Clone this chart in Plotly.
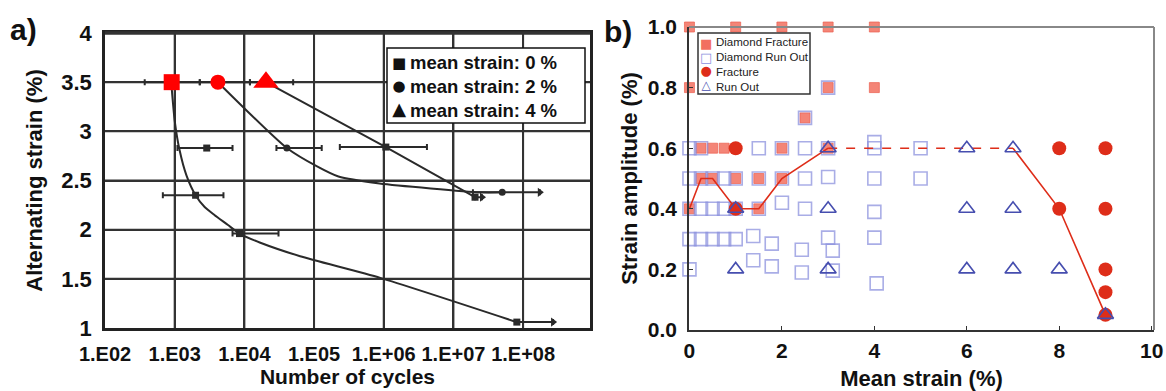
import plotly.graph_objects as go

W, H = 1166, 391
FONT = "Liberation Sans"


def fx(p):
    return p / W


def fy(p):
    return 1 - p / H


# ---------------- Panel a data (log10 of cycles, alternating strain %) -------------
# mean strain 0 %
ms0_logN = [2.957, 3.46, 3.30, 3.93, 7.91]
ms0_strain = [3.5, 2.83, 2.35, 1.96, 1.06]
ms0_lo = [2.57, 3.04, 2.83, 3.83, 7.91]
ms0_hi = [3.36, 3.83, 3.70, 4.49, 8.43]
# mean strain 2 %
ms2_logN = [3.62, 4.61, 7.70]
ms2_strain = [3.5, 2.83, 2.38]
ms2_lo = [3.36, 4.46, 7.28]
ms2_hi = [4.08, 5.11, 8.24]
# mean strain 4 %
ms4_logN = [4.31, 6.03, 7.31]
ms4_strain = [3.5, 2.84, 2.33]
ms4_lo = [4.08, 5.37, 7.31]
ms4_hi = [4.70, 6.62, 7.41]
# run-out arrows (log10 N, strain)
runout_logN = [8.43, 8.24, 7.41]
runout_strain = [1.06, 2.38, 2.33]

# fitted curves
curve0_logN = [2.95, 3.00, 3.07, 3.17, 3.30, 3.43, 3.57, 3.76, 3.93, 4.22, 4.80, 5.95, 7.91]
curve0_strain = [3.5, 3.11, 2.81, 2.55, 2.35, 2.23, 2.15, 2.05, 1.96, 1.87, 1.73, 1.51, 1.06]
curve2_logN = [3.62, 4.61, 5.05, 5.35, 5.94, 7.38, 7.70]
curve2_strain = [3.5, 2.83, 2.64, 2.54, 2.47, 2.38, 2.38]
curve4_logN = [4.31, 6.03, 7.31]
curve4_strain = [3.5, 2.84, 2.33]

a_xtickvals = [2.0, 3.0, 4.0, 5.0, 6.0, 7.0, 8.0]
a_xticktext = ["1.E02", "1.E03", "1.E04", "1.E05", "1.E+06", "1.E+07", "1.E+08"]
a_ytickvals = [1.0, 1.5, 2.0, 2.5, 3.0, 3.5, 4.0]
a_yticktext = ["1", "1.5", "2", "2.5", "3", "3.5", "4"]
a_xmax = 8.96

# ---------------- Panel b data (mean strain %, strain amplitude %) -----------------
df_x = [0, 1, 2, 3, 4, 0, 3, 4, 2.5, 0.25, 0.5, 0.75, 2, 3,
        0.25, 0.5, 1, 1.5, 2, 0, 1, 1.5]
df_y = [1.0, 1.0, 1.0, 1.0, 1.0, 0.8, 0.8, 0.8, 0.7, 0.6, 0.6, 0.6, 0.6, 0.6,
        0.5, 0.5, 0.5, 0.5, 0.5, 0.4, 0.4, 0.4]

dro_x = [3, 2.5,
         0, 0.25, 1.5, 2, 2.5, 3, 4, 4, 5,
         0, 0.25, 0.5, 0.75, 1, 1.5, 2, 2.5, 3, 4, 5,
         0, 0.25, 0.5, 0.75, 1, 1.5, 2, 2.5, 4,
         0, 0.25, 0.5, 0.75, 1, 1.38, 1.78, 2.43, 3, 3.1, 4,
         0, 1.38, 1.78, 2.43, 3.1, 4.05]
dro_y = [0.8, 0.7,
         0.6, 0.6, 0.6, 0.6, 0.6, 0.6, 0.6, 0.62, 0.6,
         0.5, 0.5, 0.5, 0.5, 0.5, 0.5, 0.5, 0.5, 0.505, 0.5, 0.5,
         0.4, 0.4, 0.4, 0.4, 0.4, 0.4, 0.42, 0.4, 0.39,
         0.3, 0.3, 0.3, 0.3, 0.3, 0.31, 0.285, 0.265, 0.305, 0.262, 0.305,
         0.2, 0.23, 0.21, 0.19, 0.196, 0.154]

fr_x = [1, 1, 8, 9, 8, 9, 9, 9, 9]
fr_y = [0.6, 0.4, 0.6, 0.6, 0.4, 0.4, 0.2, 0.125, 0.05]

ro_x = [1, 1, 3, 3, 3, 6, 7, 6, 7, 6, 7, 8, 9]
ro_y = [0.4, 0.2, 0.6, 0.4, 0.2, 0.6, 0.6, 0.4, 0.4, 0.2, 0.2, 0.2, 0.05]

lim1_x = [0, 0.25, 0.5, 1, 1.5, 2, 3]
lim1_y = [0.4, 0.5, 0.5, 0.4, 0.4, 0.5, 0.6]
lim2_x = [3, 7]
lim2_y = [0.6, 0.6]
lim3_x = [7, 8, 9]
lim3_y = [0.6, 0.4, 0.05]

b_xtickvals = [0, 2, 4, 6, 8, 10]
b_ytickvals = [0.0, 0.2, 0.4, 0.6, 0.8, 1.0]

# ---------------------------------------------------------------------------------
fig = go.Figure()

DARK = "#2a2a2a"
GRID = "#333333"


def ebar(c, lo, hi):
    return dict(type="data", symmetric=False,
                array=[10 ** h - 10 ** m for m, h in zip(c, hi)],
                arrayminus=[10 ** m - 10 ** l for m, l in zip(c, lo)],
                color=DARK, thickness=2, width=3)


# panel a grid lines along the tick values, one trace per line (float data)
for v in a_xtickvals[1:]:
    fig.add_trace(go.Scatter(x=[float(10.0 ** v), float(10.0 ** v)],
                             y=[a_ytickvals[0] + 0.0, a_ytickvals[-1] + 0.0],
                             mode="lines", line=dict(color=GRID, width=2),
                             xaxis="x", yaxis="y", showlegend=False, hoverinfo="skip"))
for v in a_ytickvals[1:-1]:
    fig.add_trace(go.Scatter(x=[float(10.0 ** a_xtickvals[0]), float(10.0 ** a_xmax)],
                             y=[v + 0.0, v + 0.0],
                             mode="lines", line=dict(color=GRID, width=2),
                             xaxis="x", yaxis="y", showlegend=False, hoverinfo="skip"))

# curves
for cx, cy in [(curve0_logN, curve0_strain), (curve2_logN, curve2_strain), (curve4_logN, curve4_strain)]:
    fig.add_trace(go.Scatter(x=[10 ** v for v in cx], y=cy, mode="lines",
                             line=dict(color=DARK, width=2, shape="spline", smoothing=0.6),
                             xaxis="x", yaxis="y", showlegend=False, hoverinfo="skip"))

fig.add_trace(go.Scatter(x=[10 ** v for v in ms0_logN[1:]], y=ms0_strain[1:], mode="markers",
                         marker=dict(symbol="square", size=7, color=DARK),
                         error_x=ebar(ms0_logN[1:], ms0_lo[1:], ms0_hi[1:]),
                         xaxis="x", yaxis="y", showlegend=False))
fig.add_trace(go.Scatter(x=[10 ** v for v in ms2_logN[1:]], y=ms2_strain[1:], mode="markers",
                         marker=dict(symbol="circle", size=7, color=DARK),
                         error_x=ebar(ms2_logN[1:], ms2_lo[1:], ms2_hi[1:]),
                         xaxis="x", yaxis="y", showlegend=False))
fig.add_trace(go.Scatter(x=[10 ** v for v in ms4_logN[1:]], y=ms4_strain[1:], mode="markers",
                         marker=dict(symbol="square", size=7, color=DARK),
                         error_x=ebar(ms4_logN[1:], ms4_lo[1:], ms4_hi[1:]),
                         xaxis="x", yaxis="y", showlegend=False))
fig.add_trace(go.Scatter(x=[10 ** ms0_logN[0], 10 ** ms2_logN[0], 10 ** ms4_logN[0]],
                         y=[ms0_strain[0], ms2_strain[0], ms4_strain[0]], mode="markers",
                         marker=dict(size=1, color=DARK),
                         error_x=ebar([ms0_logN[0], ms2_logN[0], ms4_logN[0]],
                                      [ms0_lo[0], ms2_lo[0], ms4_lo[0]],
                                      [ms0_hi[0], ms2_hi[0], ms4_hi[0]]),
                         xaxis="x", yaxis="y", showlegend=False))
fig.add_trace(go.Scatter(x=[10 ** v for v in runout_logN], y=runout_strain, mode="markers",
                         marker=dict(symbol="triangle-right", size=8, color=DARK),
                         xaxis="x", yaxis="y", showlegend=False))
fig.add_trace(go.Scatter(x=[10 ** ms0_logN[0]], y=[ms0_strain[0]], mode="markers",
                         marker=dict(symbol="square", size=16, color="#ff0000"),
                         xaxis="x", yaxis="y", showlegend=False))
fig.add_trace(go.Scatter(x=[10 ** ms2_logN[0]], y=[ms2_strain[0]], mode="markers",
                         marker=dict(symbol="circle", size=15, color="#ff0000"),
                         xaxis="x", yaxis="y", showlegend=False))
fig.add_trace(go.Scatter(x=[10 ** ms4_logN[0]], y=[ms4_strain[0]], mode="markers",
                         marker=dict(symbol="triangle-up", size=22, color="#ff0000"),
                         xaxis="x", yaxis="y", showlegend=False))

# ---------------- Panel b traces -----------------
SALMON = "rgba(242,112,95,0.85)"
LBLUE = "rgba(140,145,222,0.75)"
DBLUE = "rgb(70,78,175)"
RED = "rgb(222,45,25)"

fig.add_trace(go.Scatter(x=df_x, y=df_y, mode="markers", name="Diamond Fracture",
                         marker=dict(symbol="square", size=10, color=SALMON,
                                     line=dict(color="rgba(235,95,80,0.7)", width=1)),
                         xaxis="x2", yaxis="y2", cliponaxis=False, showlegend=False))
fig.add_trace(go.Scatter(x=dro_x, y=dro_y, mode="markers", name="Diamond Run Out",
                         marker=dict(symbol="square-open", size=13, color=LBLUE, line=dict(width=1.6)),
                         xaxis="x2", yaxis="y2", cliponaxis=False, showlegend=False))
fig.add_trace(go.Scatter(x=lim1_x, y=lim1_y, mode="lines", line=dict(color=RED, width=1.6),
                         xaxis="x2", yaxis="y2", showlegend=False, hoverinfo="skip"))
fig.add_trace(go.Scatter(x=lim2_x, y=lim2_y, mode="lines", line=dict(color=RED, width=1.6, dash="dash"),
                         xaxis="x2", yaxis="y2", showlegend=False, hoverinfo="skip"))
fig.add_trace(go.Scatter(x=lim3_x, y=lim3_y, mode="lines", line=dict(color=RED, width=1.6),
                         xaxis="x2", yaxis="y2", showlegend=False, hoverinfo="skip"))
fig.add_trace(go.Scatter(x=fr_x, y=fr_y, mode="markers", name="Fracture",
                         marker=dict(symbol="circle", size=14, color=RED),
                         xaxis="x2", yaxis="y2", cliponaxis=False, showlegend=False))
fig.add_trace(go.Scatter(x=ro_x, y=ro_y, mode="markers", name="Run Out",
                         marker=dict(symbol="triangle-up-open", size=14, color=DBLUE, line=dict(width=1.6)),
                         xaxis="x2", yaxis="y2", cliponaxis=False, showlegend=False))

tickfont_a = dict(family=FONT, size=20, color="#111", weight="bold")
tickfont_b = dict(family=FONT, size=21, color="#111", weight="bold")

fig.update_layout(
    width=W, height=H,
    margin=dict(l=0, r=0, t=0, b=0, autoexpand=False),
    paper_bgcolor="white", plot_bgcolor="white",
    showlegend=False,
    xaxis=dict(type="log", range=[a_xtickvals[0], a_xmax], domain=[fx(105), fx(590)],
               tickvals=[10 ** v for v in a_xtickvals], ticktext=a_xticktext, tickangle=0,
               showgrid=True, gridcolor=GRID, gridwidth=2,
               showline=True, linecolor="#222", linewidth=2.5, mirror=True,
               ticks="", tickfont=tickfont_a, zeroline=False, automargin=False,
               ticklabelstandoff=6,
               title=dict(text="Number of cycles", font=dict(family=FONT, size=21, color="#111", weight="bold"),
                          standoff=4),
               anchor="y"),
    yaxis=dict(range=[1, 4], domain=[fy(328), fy(33)],
               tickvals=a_ytickvals, ticktext=a_yticktext,
               showgrid=True, gridcolor=GRID, gridwidth=2,
               showline=True, linecolor="#222", linewidth=2.5, mirror=True,
               ticks="", tickfont=dict(family=FONT, size=22, color="#111", weight="bold"),
               zeroline=False, automargin=False, ticklabelstandoff=6,
               title=dict(text="Alternating strain (%)", font=dict(family=FONT, size=22, color="#111", weight="bold"),
                          standoff=13),
               anchor="x"),
    xaxis2=dict(range=[-0.01, 10.05], domain=[fx(689), fx(1154)],
                tickvals=b_xtickvals, showgrid=False, zeroline=False,
                showline=True, linecolor="#333", linewidth=1.5,
                ticks="inside", ticklen=4, tickcolor="#333", tickfont=tickfont_b,
                automargin=False, ticklabelstandoff=1,
                title=dict(text="Mean strain (%)", font=dict(family=FONT, size=22, color="#111", weight="bold"),
                           standoff=13),
                anchor="y2"),
    yaxis2=dict(range=[0, 1], domain=[fy(330), fy(27)],
                tickvals=b_ytickvals, tickformat=".1f", showgrid=False, zeroline=False,
                showline=True, linecolor="#333", linewidth=1.5,
                ticks="inside", ticklen=4, tickcolor="#333", tickfont=tickfont_b,
                automargin=False, ticklabelstandoff=6,
                title=dict(text="Strain amplitude (%)", font=dict(family=FONT, size=22, color="#111", weight="bold"),
                           standoff=4),
                anchor="x2"),
)

shapes = [
    dict(type="line", xref="x2 domain", yref="y2 domain", x0=0, x1=1, y0=1, y1=1,
         line=dict(color="#888", width=2)),
    dict(type="line", xref="x2 domain", yref="y2 domain", x0=1, x1=1, y0=0, y1=1,
         line=dict(color="#888", width=2)),
    dict(type="line", xref="x domain", yref="y domain", x0=0, x1=1, y0=1, y1=1,
         line=dict(color="#333", width=3.5)),
    dict(type="rect", xref="paper", yref="paper", x0=fx(387), x1=fx(585), y0=fy(123), y1=fy(48),
         line=dict(color="#111", width=1.5), fillcolor="white", layer="above"),
    dict(type="rect", xref="paper", yref="paper", x0=fx(698), x1=fx(810), y0=fy(94), y1=fy(33),
         line=dict(color="#333", width=1.5), fillcolor="white", layer="above"),
]
fig.update_layout(shapes=shapes)

ann = []
ann.append(dict(text="a)", x=fx(8), y=fy(30), xref="paper", yref="paper", xanchor="left", yanchor="middle",
                showarrow=False, font=dict(family=FONT, size=30, color="#111", weight="bold")))
ann.append(dict(text="b)", x=fx(602), y=fy(31), xref="paper", yref="paper", xanchor="left", yanchor="middle",
                showarrow=False, font=dict(family=FONT, size=30, color="#111", weight="bold")))

sym_a = ('<span style="font-size:15px">■</span><br>'
         '<span style="font-size:15px">●</span><br>'
         '<span style="font-size:18px">▲</span>')
txt_a = "mean strain: 0 %<br>mean strain: 2 %<br>mean strain: 4 %"
ann.append(dict(text=sym_a, x=fx(399), y=fy(86), xref="paper", yref="paper", xanchor="center", yanchor="middle",
                showarrow=False, align="center", font=dict(family="DejaVu Sans", size=18, color="#111")))
ann.append(dict(text=txt_a, x=fx(408), y=fy(86), xref="paper", yref="paper", xanchor="left", yanchor="middle",
                showarrow=False, align="left", font=dict(family=FONT, size=18.5, color="#111", weight="bold")))

sym_b = ('<span style="color:rgb(242,112,95);font-size:13px">■</span><br>'
         '<span style="color:rgb(140,145,222);font-size:13px">□</span><br>'
         '<span style="color:rgb(222,45,25);font-size:13px">●</span><br>'
         '<span style="color:rgb(70,78,175);font-size:12px">△</span>')
txt_b = "Diamond Fracture<br>Diamond Run Out<br>Fracture<br>Run Out"
ann.append(dict(text=sym_b, x=fx(706), y=fy(64), xref="paper", yref="paper", xanchor="center", yanchor="middle",
                showarrow=False, align="center", font=dict(family="DejaVu Sans", size=10.5, color="#111")))
ann.append(dict(text=txt_b, x=fx(714), y=fy(64), xref="paper", yref="paper", xanchor="left", yanchor="middle",
                showarrow=False, align="left", font=dict(family=FONT, size=11.5, color="#222")))
fig.update_layout(annotations=ann)

fig.write_html("out.html")
